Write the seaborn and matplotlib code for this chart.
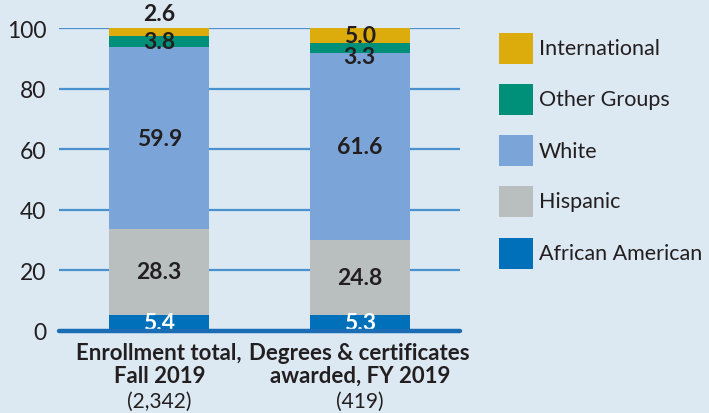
import matplotlib
matplotlib.use("Agg")
import matplotlib.pyplot as plt
import matplotlib.patches as mpatches
import seaborn as sns
import numpy as np

# Share of students by group (percent), bottom to top of each stack
groups = ["African American", "Hispanic", "White", "Other Groups", "International"]
enrollment = [5.4, 28.3, 59.9, 3.8, 2.6]
degrees = [5.3, 24.8, 61.6, 3.3, 5.0]

bar_titles = ["Enrollment total,\nFall 2019", "Degrees & certificates\nawarded, FY 2019"]
bar_counts = ["(2,342)", "(419)"]
yticks = [0, 20, 40, 60, 80, 100]

colors = ["#0070bb", "#b9bfbf", "#7ba5d8", "#00907a", "#dcab0c"]
label_colors = ["white", "#231f20", "#231f20", "#231f20", "#231f20"]

BG = "#dce8f2"
TXT = "#231f20"
FONT = "Lato"

sns.set_theme(style="white")
plt.rcParams["font.family"] = [FONT, "DejaVu Sans"]

fig = plt.figure(figsize=(7.09, 4.14), dpi=100, facecolor=BG)
ax = fig.add_axes([59 / 709, 1 - 332 / 414, (460 - 59) / 709, (332 - 29) / 414])
ax.set_facecolor(BG)

series = np.array([enrollment, degrees])  # shape (bars, groups)
tops = np.cumsum(series, axis=1)
x_names = ["enr", "deg"]

# overlapping cumulative bars: tallest first, each next one covers the lower part
for k in range(len(groups) - 1, -1, -1):
    sns.barplot(x=x_names, y=tops[:, k], color=colors[k], saturation=1,
                width=0.5, ax=ax, zorder=2 + (len(groups) - k), edgecolor="none")

# value labels
# small offsets (data units) for the crowded top segments
offsets = {(0, 4): 6.0, (1, 3): -2.8}
for i in range(series.shape[0]):
    for k in range(len(groups)):
        val = series[i, k]
        bottom = tops[i, k] - val
        y = bottom + val / 2 + offsets.get((i, k), 0)
        ax.text(i, y, f"{val:.1f}", ha="center", va="center", fontsize=16.5,
                fontweight="bold", color=label_colors[k], zorder=20,
                family=[FONT, "DejaVu Sans"])

ax.set_xlim(-0.5, 1.5)
ax.set_ylim(0, 100)
ax.set_yticks(yticks)
ax.set_yticklabels([str(t) for t in yticks], fontsize=16.5, color=TXT)
ax.yaxis.grid(True, color="#4a92cf", linewidth=1.6, zorder=0)
ax.set_axisbelow(True)
ax.tick_params(axis="y", length=0, pad=9)
ax.tick_params(axis="x", length=0, pad=8)
for s in ax.spines.values():
    s.set_visible(False)
ax.axhline(0, color="#1a6db5", linewidth=3.2, zorder=30, clip_on=False)

ax.set_xticks([0, 1])
ax.set_xticklabels(bar_titles, fontsize=16, fontweight="bold", color=TXT,
                   linespacing=1.1)
ax.set_xlabel("")
ax.set_ylabel("")
for i, c in enumerate(bar_counts):
    ax.text(i, -0.23, c, transform=ax.get_xaxis_transform(), ha="center",
            va="center", fontsize=15, color=TXT)

# legend, top entry first
row_y = [49, 100.5, 151.5, 202.5, 254]
for k, ry in zip(range(len(groups) - 1, -1, -1), row_y):
    fig.patches.append(mpatches.Rectangle((499 / 709, 1 - (ry + 15.5) / 414),
                                          34 / 709, 31 / 414,
                                          transform=fig.transFigure,
                                          facecolor=colors[k], edgecolor="none"))
    fig.text(539 / 709, 1 - ry / 414, groups[k], ha="left", va="center",
             fontsize=15.5, color=TXT)

fig.savefig("out.png", dpi=100, facecolor=BG)
